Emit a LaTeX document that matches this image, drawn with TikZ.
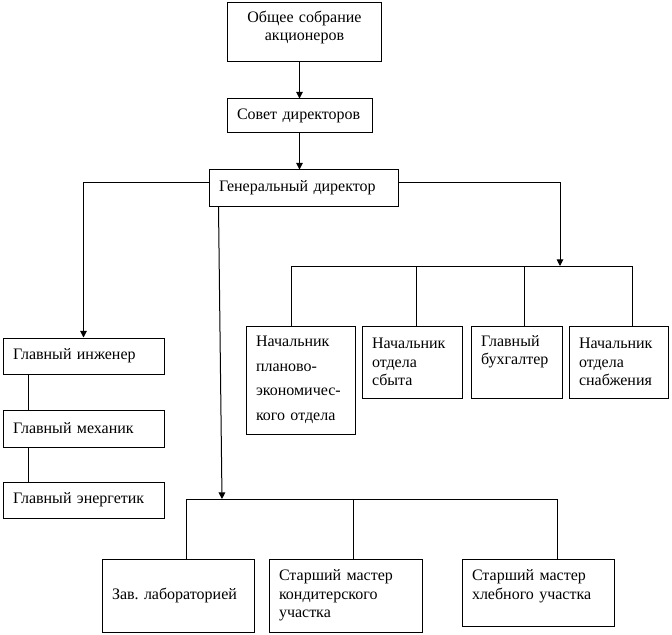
\documentclass[tikz,border=0pt]{standalone}
\usepackage{fontspec}
\setmainfont{Liberation Serif}
\usetikzlibrary{arrows.meta}
\frenchspacing

\begin{document}
\begin{tikzpicture}[x=0.75pt,y=-0.75pt,line width=0.75pt,
    blk/.style={draw,inner xsep=7.5pt,inner ysep=3pt,align=left,font=\large},
    arr/.style={-{Triangle[length=5pt,width=5pt]}}]
    \useasboundingbox (0,0) rectangle (672,635);
    % top of the chart
    \node[blk,align=center,text width=101pt,minimum height=44.25pt,text height=11.3pt,text depth=26.95pt] (obsh) at (304.5,32.5) {Общее собрание\\акционеров};
    \node[blk,text width=93.75pt,minimum height=25.5pt] (sovet) at (299.5,116) {Совет директоров};
    \node[blk,text width=126.75pt,minimum height=27pt] (gen) at (303.5,188) {Генеральный директор};
    % right group
    \node[blk,text width=66.75pt,minimum height=81pt,font=\fontsize{12}{18.4}\selectfont] (plan) at (300.5,380) {Начальник\\планово-\\экономичес-\\кого отдела};
    \node[blk,text width=60pt,minimum height=54pt] (sbyt) at (412,362) {Начальник\\отдела\\сбыта};
    \node[blk,text width=53.25pt,minimum height=54pt,text height=12pt,text depth=36pt] (buh) at (516.5,362) {Главный\\бухгалтер};
    \node[blk,text width=59.25pt,minimum height=54pt] (snab) at (618.5,362) {Начальник\\отдела\\снабжения};
    % left group
    \node[blk,text width=105.75pt,minimum height=27pt] (inzh) at (83.5,356) {Главный инженер};
    \node[blk,text width=105.75pt,minimum height=27.75pt] (mekh) at (83.5,428.5) {Главный механик};
    \node[blk,text width=105.75pt,minimum height=27pt] (energ) at (83.5,500) {Главный энергетик};
    % bottom group
    \node[blk,text width=99pt,minimum height=54.75pt] (lab) at (178,595.5) {Зав. лабораторией};
    \node[blk,text width=99.75pt,minimum height=54.75pt] (kond) at (345.5,595.5) {Старший мастер\\кондитерского\\участка};
    \node[blk,text width=99pt,minimum height=50.25pt,text height=13.15pt,text depth=31.1pt] (khleb) at (538,592.5) {Старший мастер\\хлебного участка};

    \coordinate (rin) at (560,266);
    \coordinate (r1) at (291,266);
    \coordinate (r2) at (416,266);
    \coordinate (r3) at (524,266);
    \coordinate (r4) at (632,266);
    \coordinate (sin) at (222,499);
    \coordinate (s1) at (186,499);
    \coordinate (s2) at (353,499);
    \coordinate (s3) at (557,499);

    \draw[arr] (obsh.south -| sovet.north) -- (sovet.north);
    \draw[arr] (sovet.south) -- (sovet.south |- gen.north);
    \draw[arr] ([yshift=4pt]gen.west) -| (inzh.north);
    \draw[arr] ([yshift=4pt]gen.east) -| (rin);
    \draw[arr] ([xshift=7.5pt]gen.south west) -- (sin);

    \draw (r1) -- (r4);
    \draw (r1) -- (r1 |- plan.north);
    \draw (r2) -- (r2 |- sbyt.north);
    \draw (r3) -- (r3 |- buh.north);
    \draw (r4) -- (r4 |- snab.north);

    \draw ([xshift=19.5pt]inzh.south west) -- ([xshift=19.5pt]mekh.north west);
    \draw ([xshift=19.5pt]mekh.south west) -- ([xshift=19.5pt]energ.north west);

    \draw (s1) -- (s3);
    \draw (s1) -- (s1 |- lab.north);
    \draw (s2) -- (s2 |- kond.north);
    \draw (s3) -- (s3 |- khleb.north);
\end{tikzpicture}
\end{document}
